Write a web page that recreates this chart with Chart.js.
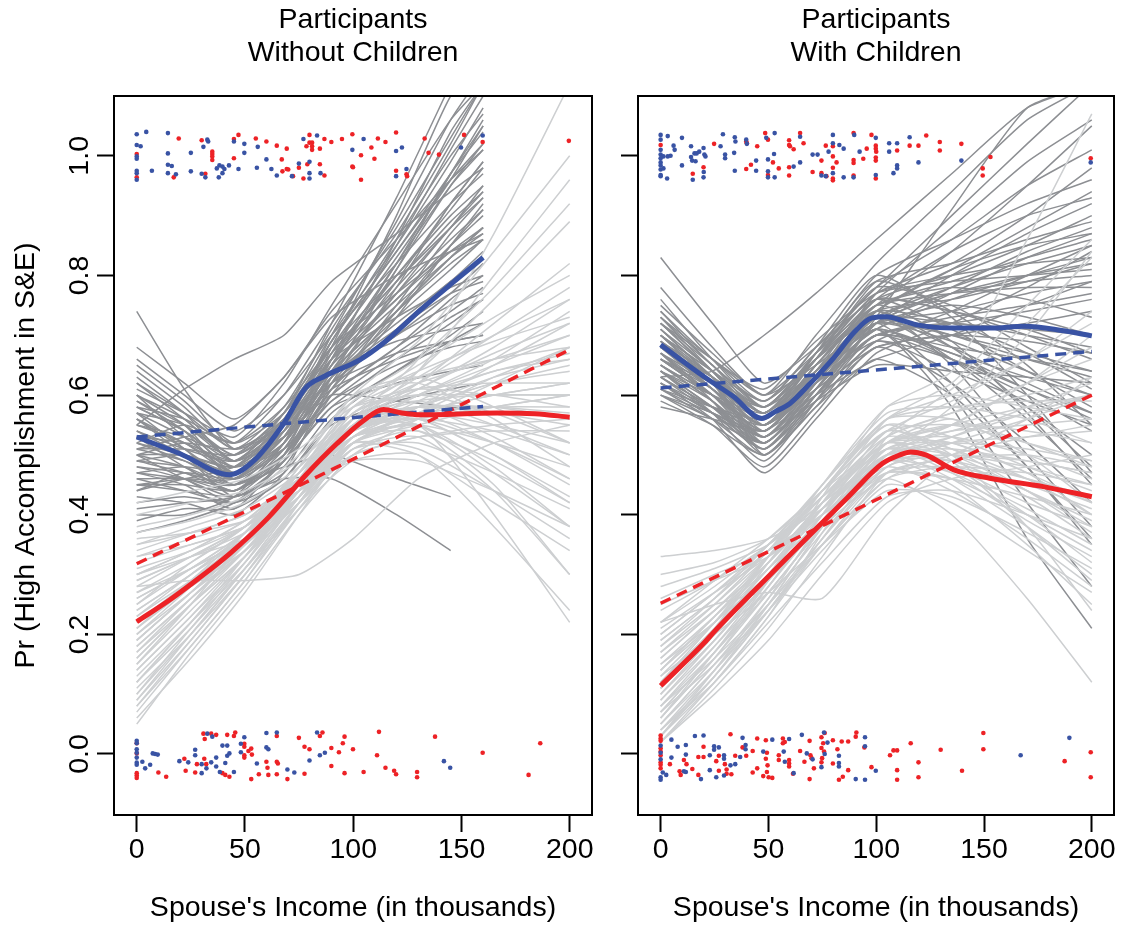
<!DOCTYPE html>
<html lang="en">
<head>
<meta charset="UTF-8">
<title>Spouse's Income and High Accomplishment</title>
<style>
  * { margin: 0; padding: 0; box-sizing: border-box; }
  body { width: 1123px; height: 926px; background: #fff; overflow: hidden; position: relative; }
  .panel { position: absolute; top: 0; height: 926px; }
  #left { left: 0; width: 600px; }
  #right { left: 600px; width: 523px; }
</style>
</head>
<body>
<div class="panel" id="left"><canvas id="chartLeft" width="600" height="926"></canvas></div>
<div class="panel" id="right"><canvas id="chartRight" width="523" height="926"></canvas></div>

<script src="https://cdn.jsdelivr.net/npm/chart.js@4"></script>
<script>
// ---- axes ----
const xTicks = [0, 50, 100, 150, 200];
const yTicks = [0, 0.2, 0.4, 0.6, 0.8, 1.0];
const xTitle = "Spouse's Income (in thousands)";
const yTitle = 'Pr (High Accomplishment in S&E)';
const leftHeading = ['Participants', 'Without Children'];
const rightHeading = ['Participants', 'With Children'];

// ---- left panel: without children ----
// bootstrap curves, y values at the knots
const leftDarkKnots = [0, 22, 45, 68, 90, 120, 145, 160];
const leftDarkLines = [
  [0.53,0.50,0.47,0.52,0.63,0.72,0.79,0.84],
  [0.58,0.54,0.49,0.55,0.66,0.78,0.88,0.95],
  [0.48,0.47,0.45,0.50,0.60,0.68,0.74,0.78],
  [0.62,0.56,0.50,0.56,0.68,0.83,0.96,1.05],
  [0.45,0.45,0.44,0.49,0.58,0.66,0.72,0.76],
  [0.74,0.61,0.51,0.55,0.64,0.74,0.83,0.88],
  [0.51,0.49,0.46,0.53,0.66,0.80,0.91,0.98],
  [0.56,0.52,0.48,0.51,0.60,0.68,0.76,0.80],
  [0.42,0.43,0.42,0.48,0.60,0.73,0.85,0.92],
  [0.64,0.58,0.51,0.58,0.71,0.88,1.03,1.12],
  [0.50,0.46,0.43,0.47,0.57,0.64,0.69,0.72],
  [0.55,0.53,0.50,0.57,0.70,0.85,0.99,1.08],
  [0.47,0.48,0.47,0.52,0.62,0.70,0.77,0.82],
  [0.60,0.55,0.47,0.54,0.65,0.76,0.85,0.90],
  [0.39,0.41,0.41,0.46,0.56,0.64,0.70,0.74],
  [0.52,0.55,0.52,0.60,0.72,0.87,1.02,1.12],
  [0.57,0.51,0.45,0.50,0.62,0.73,0.81,0.86],
  [0.44,0.46,0.48,0.55,0.64,0.69,0.71,0.72],
  [0.66,0.60,0.54,0.60,0.70,0.82,0.92,0.97],
  [0.49,0.47,0.44,0.49,0.58,0.62,0.64,0.65],
  [0.55,0.61,0.66,0.70,0.79,0.87,0.94,0.98],
  [0.61,0.57,0.53,0.62,0.75,0.92,1.06,1.12],
  [0.46,0.44,0.42,0.46,0.55,0.59,0.61,0.62],
  [0.54,0.51,0.49,0.56,0.67,0.79,0.88,0.93],
  [0.59,0.54,0.46,0.51,0.64,0.77,0.86,0.91],
  [0.43,0.42,0.40,0.47,0.62,0.78,0.92,0.99],
  [0.50,0.52,0.51,0.55,0.62,0.67,0.69,0.70],
  [0.57,0.55,0.49,0.53,0.60,0.59,0.58,0.57],
  [0.45,0.44,0.43,0.46,0.46,0.40,0.34,null],
  [0.52,0.49,0.45,0.48,0.50,0.46,0.43,null],
  [0.63,0.57,0.49,0.57,0.72,0.93,1.12,null],
  [0.47,0.45,0.41,0.50,0.66,0.86,1.04,1.12],
  [0.58,0.56,0.52,0.58,0.68,0.77,0.84,0.87],
  [0.40,0.40,0.43,0.52,0.65,0.81,0.95,1.02],
  [0.53,0.48,0.44,0.52,0.68,0.90,1.10,1.15],
  [0.68,0.62,0.56,0.63,0.74,0.86,0.96,1.01],
  [0.49,0.50,0.48,0.54,0.64,0.74,0.82,0.86],
  [0.56,0.50,0.43,0.49,0.61,0.71,0.79,0.83],
  [0.44,0.47,0.46,0.51,0.59,0.65,0.68,0.69],
  [0.60,0.53,0.48,0.55,0.69,0.84,0.97,1.04],
  [0.51,0.53,0.55,0.63,0.73,0.80,0.84,0.86],
  [0.37,0.39,0.42,0.49,0.61,0.75,0.87,0.93],
  [0.50,0.48,0.44,0.51,0.64,0.79,0.92,0.99],
  [0.55,0.52,0.47,0.53,0.63,0.74,0.83,0.88],
  [0.47,0.46,0.45,0.52,0.65,0.82,0.97,1.06],
  [0.59,0.55,0.50,0.55,0.65,0.75,0.83,0.87],
  [0.52,0.50,0.48,0.56,0.69,0.84,0.96,1.02],
  [0.62,0.57,0.51,0.56,0.66,0.73,0.78,0.80],
  [0.45,0.46,0.46,0.53,0.66,0.82,0.95,1.01],
  [0.57,0.53,0.47,0.53,0.67,0.85,1.01,1.10],
  [0.49,0.48,0.45,0.50,0.59,0.67,0.73,0.76],
  [0.54,0.50,0.46,0.54,0.70,0.89,1.06,1.14],
  [0.41,0.42,0.43,0.50,0.63,0.77,0.88,0.94],
  [0.60,0.56,0.49,0.54,0.63,0.71,0.77,0.79],
  [0.51,0.51,0.50,0.57,0.68,0.80,0.90,0.95],
  [0.56,0.51,0.46,0.52,0.62,0.70,0.75,0.77],
  [0.46,0.46,0.44,0.50,0.61,0.74,0.85,0.91],
  [0.65,0.59,0.52,0.57,0.67,0.79,0.89,0.94],
  [0.53,0.52,0.49,0.55,0.66,0.76,0.84,0.88],
  [0.48,0.46,0.42,0.49,0.63,0.81,0.97,1.05],
  [0.58,0.54,0.48,0.53,0.61,0.66,0.69,0.70],
  [0.50,0.50,0.47,0.55,0.69,0.86,1.00,1.07]
];
const leftLightKnots = [0, 25, 50, 75, 100, 130, 165, 200];
const leftLightLines = [
  [0.22,0.29,0.36,0.45,0.55,0.58,0.58,0.57],
  [0.15,0.24,0.33,0.44,0.54,0.60,0.65,0.70],
  [0.30,0.34,0.39,0.46,0.53,0.55,0.52,0.48],
  [0.08,0.19,0.30,0.42,0.52,0.57,0.60,0.62],
  [0.35,0.38,0.41,0.47,0.55,0.62,0.72,0.82],
  [0.12,0.22,0.32,0.43,0.54,0.56,0.50,0.42],
  [0.26,0.31,0.37,0.45,0.56,0.63,0.70,0.76],
  [0.19,0.27,0.35,0.45,0.56,0.59,0.55,0.50],
  [0.05,0.17,0.28,0.40,0.50,0.56,0.62,0.68],
  [0.40,0.42,0.44,0.49,0.57,0.62,0.66,0.70],
  [0.29,0.33,0.37,0.44,0.52,0.50,0.42,0.34],
  [0.17,0.26,0.35,0.47,0.59,0.66,0.78,0.92],
  [0.23,0.30,0.37,0.47,0.58,0.61,0.60,0.58],
  [0.10,0.21,0.32,0.44,0.53,0.55,0.48,0.38],
  [0.33,0.36,0.39,0.45,0.52,0.56,0.58,0.60],
  [0.28,0.29,0.29,0.30,0.36,0.46,0.52,0.55],
  [0.20,0.28,0.37,0.48,0.60,0.69,0.84,1.00],
  [0.14,0.23,0.33,0.43,0.52,0.51,0.44,0.36],
  [0.37,0.39,0.42,0.48,0.56,0.58,0.57,0.55],
  [0.25,0.32,0.38,0.47,0.57,0.64,0.76,0.89],
  [0.07,0.18,0.29,0.42,0.54,0.58,0.53,0.46],
  [0.32,0.35,0.38,0.44,0.50,0.53,0.54,0.54],
  [0.18,0.26,0.34,0.43,0.53,0.58,0.63,0.66],
  [0.42,0.44,0.46,0.51,0.58,0.60,0.60,0.60],
  [0.11,0.20,0.30,0.41,0.51,0.54,0.45,0.30],
  [0.27,0.32,0.38,0.48,0.60,0.62,0.56,0.48],
  [0.21,0.28,0.35,0.44,0.55,0.64,0.80,0.96],
  [0.34,0.37,0.40,0.46,0.53,0.57,0.63,0.68],
  [0.13,0.22,0.31,0.41,0.49,0.50,0.38,0.24],
  [0.24,0.30,0.36,0.45,0.56,0.66,0.87,1.12],
  [0.16,0.25,0.33,0.42,0.51,0.53,0.44,0.30],
  [0.38,0.40,0.43,0.50,0.59,0.64,0.69,0.73],
  [0.09,0.20,0.31,0.43,0.55,0.61,0.67,0.72],
  [0.30,0.33,0.36,0.43,0.51,0.52,0.47,0.41],
  [0.20,0.27,0.34,0.44,0.54,0.56,0.52,0.46],
  [0.26,0.31,0.36,0.46,0.57,0.61,0.62,0.62],
  [0.15,0.25,0.36,0.48,0.60,0.63,0.58,0.52],
  [0.31,0.34,0.38,0.45,0.54,0.60,0.66,0.74],
  [0.06,0.16,0.27,0.40,0.52,0.55,0.40,0.22],
  [0.22,0.28,0.34,0.42,0.50,0.53,0.55,0.56],
  [0.36,0.37,0.39,0.44,0.49,0.49,0.44,0.38],
  [0.19,0.27,0.36,0.46,0.58,0.65,0.73,0.80],
  [0.12,0.21,0.31,0.42,0.53,0.59,0.64,0.66],
  [0.28,0.33,0.38,0.46,0.55,0.56,0.50,0.43],
  [0.18,0.26,0.34,0.44,0.55,0.59,0.60,0.60],
  [0.25,0.31,0.37,0.45,0.54,0.57,0.55,0.52],
  [0.10,0.20,0.31,0.43,0.54,0.58,0.58,0.56],
  [0.30,0.34,0.39,0.47,0.56,0.61,0.68,0.76],
  [0.14,0.23,0.32,0.43,0.54,0.58,0.62,0.64],
  [0.21,0.29,0.37,0.46,0.56,0.57,0.52,0.45],
  [0.08,0.18,0.29,0.41,0.52,0.57,0.60,0.62],
  [0.33,0.35,0.38,0.45,0.53,0.58,0.62,0.65],
  [0.16,0.25,0.34,0.45,0.56,0.62,0.70,0.78],
  [0.27,0.31,0.36,0.44,0.53,0.54,0.49,0.42],
  [0.12,0.22,0.33,0.45,0.57,0.60,0.57,0.52],
  [0.23,0.29,0.35,0.43,0.52,0.58,0.65,0.72],
  [0.19,0.27,0.35,0.45,0.55,0.55,0.47,0.38],
  [0.29,0.33,0.38,0.46,0.55,0.60,0.64,0.67],
  [0.09,0.19,0.30,0.42,0.53,0.56,0.54,0.50],
  [0.35,0.37,0.40,0.46,0.54,0.57,0.58,0.58],
  [0.17,0.25,0.33,0.43,0.52,0.55,0.58,0.60],
  [0.24,0.30,0.37,0.47,0.58,0.63,0.66,0.68]
];
// observed outcomes, jittered around 1 and 0
const leftBlueTop = [
  [0,1.036],[0,1.018],[0,0.999],[0,0.995],[0,0.975],[0,0.971],[0,0.960],[1.8,1.016],[4.4,1.040],[7,0.975],
  [14.4,1.038],[14.4,1.004],[14.4,0.985],[14.4,0.971],[16.2,0.983],[18.1,0.969],[25,1.005],[25,0.974],[30,0.970],
  [30.8,1.015],[32.6,1.027],[33,1.024],[31.7,0.964],[37,0.979],[38.2,0.984],[39.6,0.982],[40.5,0.978],[39.6,0.971],
  [37.9,0.964],[42.6,0.984],[44.9,1.024],[47,0.978],[49.7,1.020],[49.7,1.005],[55.9,1.015],[55.5,0.980],[59.9,0.994],
  [62.2,0.978],[64.7,0.967],[71.7,0.966],[74.9,0.987],[77,1.028],[79.8,0.990],[79.8,0.971],[79.8,0.962],[83.3,1.034],
  [84.9,0.971],[99.6,1.010],[104.8,1.028],[119.8,1.008],[119.8,0.966],[122.5,1.014],[124.6,0.978],[149.8,1.014],[159.8,1.034]
];
const leftRedTop = [
  [0,1.003],[0,0.964],[17.1,0.964],[19.4,1.029],[30,1.026],[31.7,0.970],[34.9,1.007],[34.9,1.003],[34.9,0.999],[34.9,0.993],
  [44.9,1.028],[44.9,0.996],[47,1.035],[55,1.029],[59.9,1.024],[64.7,1.017],[67,0.994],[67.3,0.974],[69.3,1.012],[69.3,0.978],
  [70,0.977],[72.2,0.966],[74.9,0.980],[77,0.962],[79.8,1.035],[79.8,1.022],[81,1.022],[81,1.016],[78.4,1.016],[78.8,0.986],
  [81,1.010],[84.6,1.012],[84.6,0.986],[86.7,1.028],[86.7,0.967],[89.9,1.023],[94.8,1.028],[99.6,1.036],[99.6,0.982],[99.9,0.981],
  [103.6,1.001],[103.6,0.960],[108.4,1.014],[109.8,0.995],[111.4,1.029],[114.9,1.023],[119.8,1.039],[119.8,0.975],[124.6,0.969],
  [124.9,0.966],[133,1.029],[134.8,1.005],[139.6,1.002],[151.2,1.035],[159.8,1.023],[199.6,1.025]
];
const leftBlueBottom = [
  [0,0.022],[0,0.018],[0,0.008],[0,0.002],[0,-0.006],[0,-0.0145],[0,-0.018],[2.6,-0.013],[3.9,-0.024],[6.2,-0.018],
  [7.4,0.001],[8.5,0.0],[9.7,-0.001],[19.7,-0.012],[23.8,-0.014],[27,0.007],[27,-0.002],[30,-0.017],[30,-0.032],[32.6,0.034],
  [32.2,-0.024],[34.4,-0.014],[34.9,0.029],[36.7,-0.006],[36.7,-0.021],[38.4,-0.030],[39.6,0.014],[40.9,-0.015],[41.8,0.014],
  [41.8,-0.003],[42.8,0.001],[44.9,-0.030],[48.1,0.017],[48.1,0.003],[49.7,0.028],[55.5,-0.016],[59.9,0.035],[59.9,0.011],
  [60.8,0.008],[64.7,0.036],[69.6,-0.026],[72.8,-0.031],[79.8,-0.011],[83.3,0.036],[84.6,-0.002],[86.9,0.002],
  [141.9,-0.012],[144.8,-0.023]
];
const leftRedBottom = [
  [0,0.018],[0,0.001],[0,-0.032],[0,-0.036],[0,-0.040],[10,-0.031],[13.6,-0.038],[22,-0.008],[22.6,-0.028],[27,-0.031],
  [27.8,-0.017],[30.8,0.034],[31.4,0.025],[31.2,-0.008],[32.1,-0.017],[34.4,0.034],[36.7,0.032],[39.6,-0.032],[40.9,-0.035],
  [41.8,0.032],[42.8,-0.038],[44.9,0.030],[45.5,0.036],[49.7,0.017],[49.7,0.012],[49.7,-0.002],[49.7,-0.006],[51.6,0.005],
  [52.9,0.009],[53.2,-0.001],[52.9,-0.042],[56.4,-0.034],[59.9,-0.013],[60.4,-0.023],[60.8,-0.035],[64.7,0.030],[64.7,-0.013],
  [65.2,-0.016],[64.7,-0.034],[69.6,-0.042],[74.9,0.027],[77.5,0.012],[77.5,-0.033],[79.8,0.008],[84.6,0.030],[85.8,0.036],
  [89.9,0.010],[89.9,-0.020],[93.4,0.003],[95.2,0.018],[96,0.029],[96,-0.032],[99.9,0.008],[104.8,-0.030],[111,-0.002],
  [111.9,0.037],[114.9,-0.023],[118.9,-0.028],[119.8,-0.034],[129.5,-0.030],[129.5,-0.039],[137.8,0.029],[159.8,0.002],
  [181,-0.035],[186.4,0.018]
];
// smoothed and logistic fits
const leftBlueLoess = [[0,0.530],[20,0.502],[43,0.467],[54,0.490],[68,0.553],[78,0.612],[87,0.632],[103,0.659],[114,0.687],[131,0.742],[145,0.785],[160,0.830]];
const leftRedLoess = [[0,0.221],[15,0.257],[25.5,0.285],[43,0.335],[61,0.396],[78,0.466],[92.5,0.519],[105,0.558],[114,0.576],[122.5,0.570],[131,0.567],[166.5,0.570],[184,0.569],[200,0.563]];
const leftBlueFit = [[0,0.530],[80,0.556],[160,0.581]];
const leftRedFit = [[0,0.318],[100,0.493],[200,0.676]];

// ---- right panel: with children ----
const rightDarkKnots = [0, 24, 48, 72, 100, 135, 170, 200];
const rightDarkLines = [
  [0.68,0.61,0.56,0.64,0.73,0.72,0.71,0.70],
  [0.72,0.64,0.57,0.66,0.76,0.80,0.85,0.90],
  [0.64,0.58,0.52,0.61,0.70,0.66,0.60,0.54],
  [0.70,0.62,0.55,0.65,0.75,0.84,0.95,1.05],
  [0.62,0.57,0.51,0.59,0.68,0.70,0.72,0.74],
  [0.76,0.66,0.58,0.66,0.74,0.68,0.58,0.48],
  [0.66,0.60,0.54,0.63,0.72,0.78,0.84,0.88],
  [0.60,0.55,0.48,0.57,0.68,0.62,0.52,0.42],
  [0.74,0.65,0.59,0.68,0.78,0.90,1.02,1.12],
  [0.65,0.60,0.55,0.62,0.70,0.72,0.74,0.76],
  [0.83,0.72,0.62,0.68,0.76,0.74,0.70,0.66],
  [0.69,0.62,0.53,0.62,0.74,0.65,0.50,0.38],
  [0.61,0.58,0.56,0.63,0.71,0.76,0.80,0.83],
  [0.71,0.63,0.57,0.66,0.78,0.75,0.68,0.62],
  [0.67,0.59,0.50,0.58,0.69,0.64,0.59,0.55],
  [0.63,0.64,0.70,0.77,0.86,0.97,1.08,1.12],
  [0.73,0.64,0.56,0.67,0.80,0.86,0.92,0.96],
  [0.59,0.55,0.50,0.58,0.66,0.60,0.48,0.35],
  [0.68,0.63,0.58,0.64,0.71,0.67,0.63,0.60],
  [0.78,0.68,0.60,0.70,0.82,0.94,1.06,1.12],
  [0.64,0.57,0.49,0.59,0.72,0.77,0.79,0.80],
  [0.70,0.64,0.59,0.66,0.73,0.70,0.66,0.63],
  [0.66,0.60,0.53,0.61,0.71,0.60,0.42,0.28],
  [0.62,0.56,0.47,0.56,0.67,0.72,0.78,0.84],
  [0.72,0.65,0.58,0.67,0.76,0.71,0.64,0.58],
  [0.67,0.62,0.56,0.64,0.74,0.81,0.88,0.94],
  [0.75,0.67,0.60,0.65,0.72,0.74,0.77,0.79],
  [0.61,0.56,0.52,0.60,0.70,0.68,0.66,0.64],
  [0.69,0.61,0.54,0.64,0.77,0.88,0.99,1.06],
  [0.65,0.59,0.51,0.60,0.71,0.58,0.36,0.21],
  [0.71,0.64,0.55,0.63,0.73,0.78,0.82,0.85],
  [0.63,0.58,0.54,0.62,0.69,0.66,0.61,0.56],
  [0.68,0.63,0.57,0.66,0.79,0.82,0.86,0.89],
  [0.60,0.57,0.53,0.59,0.65,0.64,0.63,0.62],
  [0.73,0.66,0.59,0.68,0.80,0.73,0.60,0.47],
  [0.66,0.61,0.55,0.65,0.76,0.84,0.90,0.93],
  [0.70,0.62,0.52,0.62,0.75,0.69,0.57,0.45],
  [0.64,0.60,0.57,0.64,0.72,0.75,0.73,0.70],
  [0.69,0.63,0.50,0.60,0.73,0.91,1.08,1.12],
  [0.67,0.60,0.55,0.61,0.68,0.70,0.69,0.67],
  [0.58,0.56,0.54,0.60,0.66,0.70,0.75,0.79],
  [0.74,0.66,0.61,0.69,0.77,0.79,0.80,0.81],
  [0.67,0.61,0.55,0.64,0.74,0.76,0.79,0.82],
  [0.63,0.58,0.53,0.62,0.72,0.70,0.67,0.64],
  [0.70,0.63,0.56,0.65,0.75,0.79,0.83,0.86],
  [0.65,0.59,0.52,0.61,0.71,0.66,0.58,0.50],
  [0.72,0.64,0.57,0.66,0.77,0.82,0.90,0.98],
  [0.61,0.57,0.54,0.62,0.70,0.72,0.70,0.68],
  [0.68,0.61,0.53,0.63,0.76,0.74,0.71,0.67],
  [0.66,0.62,0.58,0.66,0.75,0.78,0.76,0.73],
  [0.71,0.63,0.54,0.63,0.73,0.68,0.62,0.57],
  [0.64,0.58,0.51,0.60,0.72,0.80,0.87,0.92],
  [0.69,0.62,0.56,0.65,0.74,0.72,0.67,0.61],
  [0.62,0.58,0.55,0.63,0.71,0.77,0.83,0.87],
  [0.73,0.65,0.57,0.67,0.79,0.74,0.65,0.55],
  [0.66,0.60,0.54,0.63,0.73,0.77,0.80,0.82],
  [0.60,0.56,0.50,0.59,0.70,0.67,0.61,0.57],
  [0.70,0.64,0.58,0.67,0.78,0.86,0.95,1.01],
  [0.65,0.60,0.55,0.62,0.70,0.73,0.75,0.77],
  [0.67,0.60,0.52,0.61,0.72,0.62,0.48,0.36],
  [0.72,0.66,0.60,0.67,0.75,0.77,0.78,0.78],
  [0.63,0.57,0.51,0.61,0.74,0.81,0.85,0.87],
  [0.69,0.63,0.57,0.64,0.72,0.69,0.64,0.60],
  [0.64,0.59,0.53,0.62,0.73,0.66,0.56,0.46],
  [0.68,0.62,0.56,0.66,0.77,0.80,0.82,0.83],
  [0.62,0.57,0.52,0.60,0.69,0.74,0.80,0.85]
];
const rightLightKnots = [0, 25, 50, 75, 105, 135, 170, 200];
const rightLightLines = [
  [0.11,0.20,0.30,0.39,0.49,0.49,0.46,0.43],
  [0.05,0.15,0.26,0.37,0.48,0.52,0.56,0.60],
  [0.18,0.25,0.33,0.41,0.50,0.46,0.38,0.30],
  [0.03,0.13,0.24,0.36,0.50,0.54,0.57,0.60],
  [0.22,0.29,0.36,0.44,0.52,0.55,0.62,0.70],
  [0.08,0.18,0.29,0.40,0.51,0.48,0.40,0.32],
  [0.33,0.34,0.36,0.41,0.50,0.53,0.57,0.60],
  [0.14,0.22,0.31,0.40,0.49,0.50,0.49,0.47],
  [0.02,0.11,0.21,0.33,0.47,0.49,0.43,0.36],
  [0.26,0.30,0.34,0.40,0.47,0.46,0.43,0.40],
  [0.10,0.20,0.32,0.44,0.56,0.60,0.66,0.72],
  [0.06,0.16,0.28,0.40,0.54,0.50,0.38,0.24],
  [0.16,0.24,0.32,0.42,0.53,0.57,0.62,0.66],
  [0.04,0.12,0.22,0.32,0.43,0.44,0.40,0.36],
  [0.22,0.25,0.27,0.26,0.40,0.49,0.50,0.48],
  [0.12,0.21,0.31,0.41,0.52,0.48,0.42,0.38],
  [0.28,0.31,0.35,0.42,0.50,0.58,0.70,0.84],
  [0.07,0.17,0.27,0.38,0.49,0.45,0.35,0.25],
  [0.15,0.22,0.30,0.39,0.48,0.52,0.53,0.54],
  [0.03,0.14,0.26,0.39,0.52,0.56,0.50,0.42],
  [0.19,0.26,0.34,0.44,0.55,0.53,0.48,0.44],
  [0.09,0.19,0.30,0.42,0.56,0.62,0.75,0.86],
  [0.13,0.20,0.27,0.35,0.44,0.43,0.37,0.31],
  [0.24,0.29,0.35,0.43,0.51,0.50,0.46,0.42],
  [0.05,0.15,0.25,0.36,0.47,0.46,0.40,0.34],
  [0.17,0.25,0.34,0.45,0.57,0.58,0.56,0.52],
  [0.02,0.10,0.19,0.30,0.42,0.46,0.48,0.50],
  [0.30,0.32,0.36,0.44,0.54,0.55,0.52,0.49],
  [0.10,0.19,0.29,0.38,0.46,0.40,0.26,0.12],
  [0.21,0.27,0.33,0.41,0.49,0.53,0.58,0.62],
  [0.06,0.17,0.29,0.43,0.58,0.64,0.86,1.07],
  [0.14,0.23,0.32,0.42,0.51,0.47,0.39,0.33],
  [0.08,0.16,0.25,0.35,0.46,0.50,0.53,0.55],
  [0.25,0.29,0.33,0.40,0.48,0.44,0.36,0.28],
  [0.04,0.14,0.25,0.38,0.52,0.55,0.54,0.52],
  [0.18,0.26,0.35,0.44,0.54,0.51,0.44,0.37],
  [0.11,0.21,0.33,0.45,0.58,0.60,0.58,0.56],
  [0.15,0.23,0.31,0.39,0.47,0.50,0.56,0.63],
  [0.07,0.15,0.24,0.34,0.45,0.42,0.34,0.27],
  [0.20,0.27,0.34,0.42,0.50,0.52,0.51,0.49],
  [0.03,0.12,0.23,0.37,0.53,0.61,0.72,0.83],
  [0.12,0.22,0.33,0.44,0.55,0.49,0.38,0.29],
  [0.09,0.18,0.28,0.39,0.50,0.51,0.49,0.47],
  [0.13,0.22,0.32,0.42,0.52,0.52,0.47,0.42],
  [0.04,0.13,0.24,0.36,0.48,0.50,0.48,0.45],
  [0.19,0.26,0.34,0.43,0.52,0.55,0.58,0.60],
  [0.07,0.17,0.28,0.40,0.52,0.53,0.50,0.46],
  [0.16,0.24,0.33,0.43,0.53,0.51,0.46,0.40],
  [0.11,0.20,0.30,0.41,0.53,0.57,0.60,0.63],
  [0.02,0.12,0.23,0.35,0.47,0.48,0.45,0.41],
  [0.22,0.28,0.35,0.43,0.52,0.50,0.44,0.38],
  [0.06,0.16,0.27,0.38,0.50,0.55,0.62,0.68],
  [0.14,0.23,0.33,0.44,0.56,0.56,0.52,0.48],
  [0.10,0.19,0.29,0.39,0.49,0.47,0.41,0.35],
  [0.17,0.24,0.32,0.41,0.51,0.54,0.55,0.56],
  [0.05,0.14,0.24,0.35,0.46,0.48,0.47,0.45],
  [0.20,0.27,0.35,0.45,0.56,0.58,0.59,0.59],
  [0.08,0.17,0.27,0.38,0.50,0.49,0.44,0.39],
  [0.12,0.21,0.31,0.42,0.54,0.59,0.66,0.74],
  [0.03,0.13,0.25,0.38,0.51,0.52,0.47,0.40]
];
const rightBlueTop = [
  [0,1.035],[0,1.027],[0,1.010],[0,1.002],[0,0.996],[0,0.989],[0,0.984],[0,0.977],[0,0.968],[0,0.966],
  [1.3,0.999],[1.3,0.979],[3.3,1.033],[3.3,0.999],[3,0.962],[4.6,1.0],[6,1.017],[6.5,1.010],[9.9,1.030],[9.9,0.984],
  [14.1,1.016],[14.1,0.998],[14.6,0.992],[14.9,0.960],[15.7,1.004],[16.2,0.991],[16.7,1.004],[17.9,1.007],[20,0.973],
  [19.9,1.013],[20.3,1.002],[19.9,0.964],[20.8,0.999],[27.8,1.016],[28.9,1.036],[29.9,1.002],[29.9,0.996],[34.4,1.031],
  [34.7,1.024],[34.1,1.005],[34.4,0.975],[39.7,1.027],[40,1.020],[44.3,0.992],[44.3,0.975],[49,1.030],[49.8,0.994],
  [49.8,0.974],[49.8,0.964],[52.9,1.038],[52.6,1.003],[52.9,0.964],[61.7,0.982],[64.7,1.032],[64.7,0.989],[70.5,1.002],
  [72.8,1.002],[74.6,0.967],[76.6,0.966],[77.9,1.007],[79.9,1.035],[79.9,1.021],[79.9,0.971],[82.9,1.018],[84.9,1.012],
  [84.9,0.964],[89.8,1.035],[89.5,0.964],[92.3,1.007],[99.8,1.030],[99.8,0.968],[106,1.021],[106,1.007],[108,0.971],
  [109.7,1.021],[109.7,0.984],[109.7,0.979],[115.5,1.031],[119.6,0.989],[139.5,0.992],[199.5,0.989]
];
const rightRedTop = [
  [0,1.018],[14.9,0.970],[19.9,0.981],[24.8,1.020],[39.7,1.024],[40,1.021],[39.7,0.978],[41.9,0.985],[44.8,1.016],
  [48.5,1.038],[49.8,1.027],[49.8,0.968],[52.1,0.989],[54.8,0.979],[59.6,1.026],[59.6,1.018],[60,1.016],[59.6,0.981],
  [59.6,0.967],[61.7,1.011],[64.7,1.038],[66.3,1.021],[70.5,0.973],[74.6,0.992],[74.6,0.971],[76.6,1.017],[76.9,0.966],
  [79.9,1.016],[79.9,0.999],[79.9,0.980],[79.9,0.962],[79.9,0.959],[81.6,0.989],[89.5,1.038],[89.5,0.993],[89.5,0.988],
  [89.5,0.967],[94,0.995],[95.6,1.012],[97.8,1.035],[99.8,1.017],[99.8,1.012],[100,1.007],[99.8,0.997],[99.8,0.992],
  [99.8,0.962],[109.7,1.009],[115.5,1.017],[119.6,1.017],[123.2,1.034],[129.5,1.023],[129.5,1.009],[139.5,1.020],
  [149.4,0.979],[149.4,0.967],[153,0.998],[199.5,0.996]
];
const rightBlueBottom = [
  [0,0.014],[0,0.002],[0,-0.009],[0,-0.039],[0,-0.043],[1,-0.031],[2.6,-0.035],[5,0.024],[5,-0.006],[7.9,0.012],
  [10.8,-0.029],[11.7,0.015],[11.7,-0.001],[11.7,-0.030],[15.9,0.030],[18.7,-0.042],[19.9,0.031],[22.8,-0.002],
  [22.8,-0.027],[24.8,0.013],[24.8,0.007],[25.8,-0.039],[27,0.011],[29.4,-0.002],[29.4,-0.008],[29.4,-0.036],
  [32.4,-0.019],[34.6,-0.017],[36.9,-0.005],[38,0.027],[39.4,0.015],[39.4,0.008],[47.6,0.004],[51.8,0.024],
  [57.1,0.004],[57.6,-0.013],[59.6,0.025],[61.7,-0.032],[65.5,0.032],[67.8,0.001],[70.5,-0.009],[74.6,-0.022],
  [75.8,0.036],[76.1,0.0],[77.4,0.019],[82.7,-0.003],[82.7,-0.021],[82.7,-0.015],[90.5,-0.042],[94.8,0.028],
  [94.8,0.013],[94.8,-0.043],[99.8,-0.028],[167,-0.002],[189.6,0.027]
];
const rightRedBottom = [
  [0,0.031],[0,0.026],[0,0.022],[0,0.0095],[0,0.004],[0,-0.002],[0,-0.014],[0,-0.018],[0,-0.024],[4.3,-0.017],
  [8.8,-0.029],[9.3,-0.035],[10.8,-0.010],[12,-0.017],[14.7,-0.025],[17.5,-0.005],[17.5,-0.035],[19.9,0.012],
  [19.9,-0.005],[25.8,-0.012],[27,-0.003],[27,-0.028],[29.8,-0.017],[30.6,-0.026],[30.6,-0.033],[32.4,0.033],
  [32.8,-0.034],[34.6,-0.003],[38,0.011],[39.7,-0.003],[42.7,0.005],[42.7,-0.031],[44.8,0.026],[44.8,-0.024],
  [47.6,-0.037],[48.8,0.023],[49.3,0.002],[48.8,-0.008],[49.6,-0.019],[49.3,-0.030],[50.1,-0.039],[51.8,-0.040],
  [54.8,-0.002],[54.8,-0.010],[56.7,0.026],[56.7,0.018],[57.6,0.020],[59.6,-0.010],[59.6,-0.016],[59.6,-0.021],
  [61.4,-0.033],[64.7,0.005],[66.7,-0.013],[69.1,0.022],[69.5,-0.002],[69.1,-0.042],[70,-0.007],[71.1,-0.024],
  [74.6,0.028],[74.6,0.010],[74.9,-0.007],[74.6,-0.014],[76.1,0.035],[75.4,0.018],[75.8,0.004],[79.9,0.023],
  [79.9,-0.016],[82,0.008],[82.7,-0.043],[84,0.021],[84.5,-0.038],[87,-0.027],[87,0.021],[90.5,0.029],[90.8,0.036],
  [94.5,0.011],[97.8,-0.022],[106.4,-0.002],[108,0.006],[109.7,0.006],[109.7,-0.027],[109.7,-0.043],[116,0.018],
  [119.6,-0.014],[119.6,-0.039],[129.9,0.007],[139.8,-0.028],[149.7,0.035],[149.7,0.008],[187.4,-0.012],
  [199.5,0.003],[199.5,-0.039]
];
const rightBlueLoess = [[0,0.684],[20,0.631],[33.6,0.598],[47,0.561],[53,0.572],[60,0.586],[70,0.622],[80,0.661],[90,0.706],[98,0.729],[105,0.731],[111,0.726],[119.6,0.717],[136,0.712],[152.7,0.712],[169,0.715],[186,0.708],[200,0.699]];
const rightRedLoess = [[0,0.114],[20,0.185],[25,0.205],[47,0.286],[67,0.358],[86.5,0.428],[103,0.486],[111,0.500],[116,0.505],[123,0.500],[136,0.475],[152.7,0.461],[177.5,0.447],[200,0.430]];
const rightBlueFit = [[0,0.612],[100,0.642],[200,0.673]];
const rightRedFit = [[0,0.252],[100,0.425],[200,0.600]];

// ---- styling ----
const FONT = "'Liberation Sans', Arial, Helvetica, sans-serif";
const FONT_SIZE = 28.5;
const BLUE = '#3953a4';
const RED = '#ed2226';
const DARK = '#8d8f93';
const LIGHT = '#cdcfd1';
const X_MIN = -10.5, X_MAX = 210.3;
const Y_MIN = -0.102, Y_MAX = 1.100;

const onKnots = (knots, ys) => knots.map((x, i) => ({ x: x, y: ys[i] }));
const fromPairs = list => list.map(p => ({ x: p[0], y: p[1] }));

// bootstrap curves: light spline through the knots
function bootSet(data, color) {
  return {
    data: data, showLine: true, borderColor: color, borderWidth: 1.5,
    pointRadius: 0, fill: false, tension: 0.2, order: color === DARK ? 6 : 5, clip: 0
  };
}
function fitSet(data, color, width, order, dash) {
  return {
    data: data, showLine: true, borderColor: color, borderWidth: width, borderDash: dash || [],
    pointRadius: 0, fill: false, cubicInterpolationMode: 'monotone', order: order, clip: 0
  };
}
function dotSet(data, color) {
  return { data: data, showLine: false, pointRadius: 2.3, pointBackgroundColor: color, pointBorderWidth: 0, order: 3 };
}

function panelData(p) {
  const sets = [];
  p.dark.forEach(ys => sets.push(bootSet(onKnots(p.darkKnots, ys), DARK)));
  p.light.forEach(ys => sets.push(bootSet(onKnots(p.lightKnots, ys), LIGHT)));
  sets.push(dotSet(fromPairs(p.blueTop), BLUE), dotSet(fromPairs(p.redTop), RED));
  sets.push(dotSet(fromPairs(p.blueBottom), BLUE), dotSet(fromPairs(p.redBottom), RED));
  sets.push(fitSet(fromPairs(p.blueFit), BLUE, 3.5, 2, [11, 7]));
  sets.push(fitSet(fromPairs(p.redFit), RED, 3.5, 2, [11, 7]));
  sets.push(fitSet(fromPairs(p.blueLoess), BLUE, 5, 1));
  sets.push(fitSet(fromPairs(p.redLoess), RED, 5, 0));
  return { datasets: sets };
}

// plot frame around the chart area
const frame = {
  id: 'frame',
  afterDatasetsDraw(chart) {
    const { ctx, chartArea: a } = chart;
    ctx.save();
    ctx.strokeStyle = '#000';
    ctx.lineWidth = 2;
    ctx.strokeRect(a.left, a.top, a.right - a.left, a.bottom - a.top);
    ctx.restore();
  }
};
// two-line panel heading centred over the plot
const heading = {
  id: 'heading',
  afterDraw(chart, args, opts) {
    const { ctx, chartArea: a } = chart;
    ctx.save();
    ctx.font = FONT_SIZE + 'px ' + FONT;
    ctx.fillStyle = '#000';
    ctx.textAlign = 'center';
    ctx.textBaseline = 'middle';
    const cx = (a.left + a.right) / 2;
    opts.lines.forEach((t, i) => ctx.fillText(t, cx, opts.top + i * opts.gap));
    ctx.restore();
  }
};

function makeChart(id, p) {
  const tickFont = { family: FONT, size: FONT_SIZE };
  const grid = { drawOnChartArea: false, drawTicks: true, tickLength: 17, tickWidth: 2, color: '#000', tickColor: '#000' };
  return new Chart(document.getElementById(id), {
    type: 'scatter',
    data: panelData(p),
    plugins: [frame, heading],
    options: {
      responsive: false,
      animation: false,
      events: [],
      layout: { padding: { left: 0, right: p.padRight, top: 96, bottom: 0 } },
      plugins: {
        legend: { display: false },
        tooltip: { enabled: false },
        heading: { lines: p.heading, top: 20.5, gap: 33 }
      },
      scales: {
        x: {
          type: 'linear', min: X_MIN, max: X_MAX,
          afterBuildTicks: s => { s.ticks = xTicks.map(v => ({ value: v })); },
          afterFit: s => { s.height = 111; },
          ticks: { font: tickFont, color: '#000', padding: 1, maxRotation: 0, autoSkip: false, callback: v => String(v) },
          grid: grid,
          border: { display: false },
          title: { display: true, text: xTitle, font: tickFont, color: '#000', padding: { top: 0, bottom: 1 } }
        },
        y: {
          type: 'linear', min: Y_MIN, max: Y_MAX,
          afterBuildTicks: s => { s.ticks = yTicks.map(v => ({ value: v })); },
          afterFit: s => { s.width = p.yWidth; },
          ticks: {
            display: p.yLabels, font: tickFont, color: '#000', padding: -3,
            minRotation: 90, maxRotation: 90, crossAlign: 'center', autoSkip: false,
            callback: v => v.toFixed(1)
          },
          grid: grid,
          border: { display: false },
          title: { display: p.yLabels, text: yTitle, font: tickFont, color: '#000', padding: { top: 9, bottom: 0 } }
        }
      }
    }
  });
}

makeChart('chartLeft', {
  darkKnots: leftDarkKnots, dark: leftDarkLines, lightKnots: leftLightKnots, light: leftLightLines,
  blueTop: leftBlueTop, redTop: leftRedTop, blueBottom: leftBlueBottom, redBottom: leftRedBottom,
  blueLoess: leftBlueLoess, redLoess: leftRedLoess, blueFit: leftBlueFit, redFit: leftRedFit,
  heading: leftHeading, yLabels: true, yWidth: 114, padRight: 8
});
makeChart('chartRight', {
  darkKnots: rightDarkKnots, dark: rightDarkLines, lightKnots: rightLightKnots, light: rightLightLines,
  blueTop: rightBlueTop, redTop: rightRedTop, blueBottom: rightBlueBottom, redBottom: rightRedBottom,
  blueLoess: rightBlueLoess, redLoess: rightRedLoess, blueFit: rightBlueFit, redFit: rightRedFit,
  heading: rightHeading, yLabels: false, yWidth: 38, padRight: 9
});
</script>
</body>
</html>
